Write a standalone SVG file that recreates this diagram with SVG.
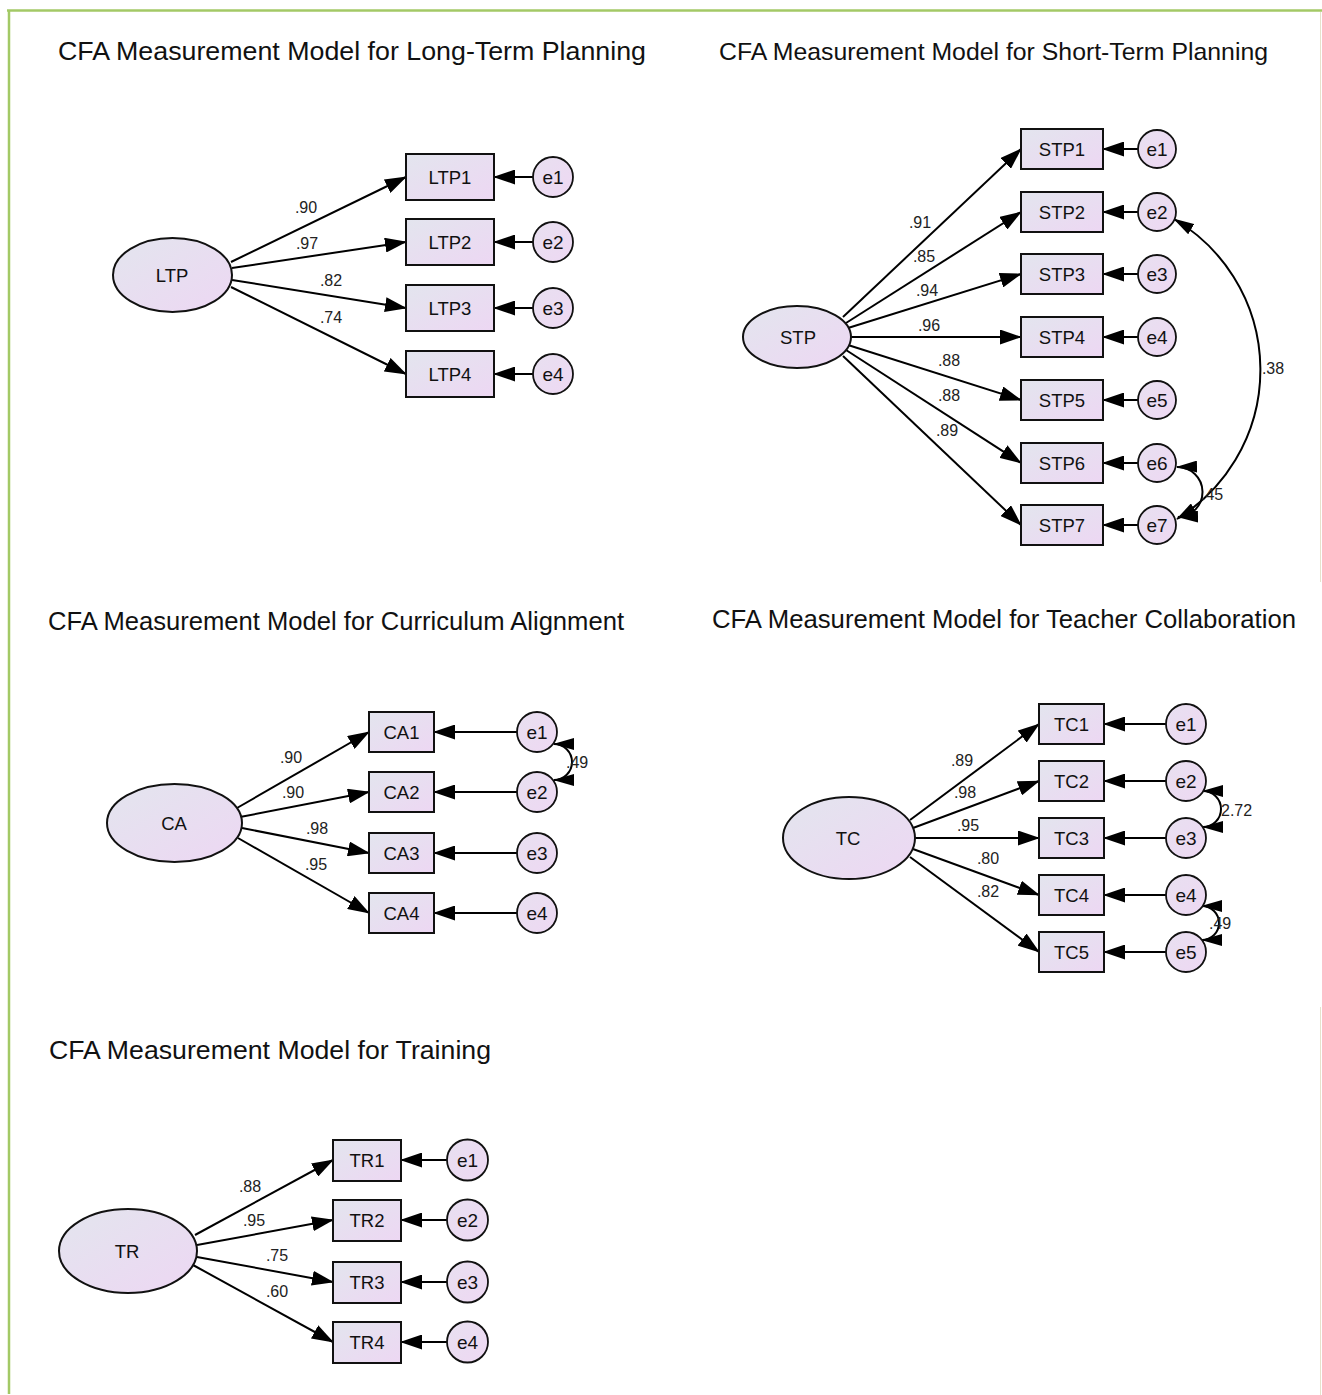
<svg xmlns="http://www.w3.org/2000/svg" width="1322" height="1395" viewBox="0 0 1322 1395">
<defs>
  <linearGradient id="nodeFill" x1="0" y1="0" x2="1" y2="1">
    <stop offset="0" stop-color="#e3e5ee"/>
    <stop offset="1" stop-color="#edd7f3"/>
  </linearGradient>
  <linearGradient id="errFill" x1="0" y1="0" x2="1" y2="1">
    <stop offset="0" stop-color="#e8e0f0"/>
    <stop offset="1" stop-color="#eed8f3"/>
  </linearGradient>
  <marker id="ah" viewBox="0 0 22 15" refX="21" refY="7.5" markerWidth="22" markerHeight="15" markerUnits="userSpaceOnUse" orient="auto-start-reverse">
    <path d="M0,0 L22,7.5 L0,15 z" fill="#000"/>
  </marker>
  <marker id="ahc" viewBox="0 0 21 12" refX="20" refY="6" markerWidth="21" markerHeight="12" markerUnits="userSpaceOnUse" orient="auto-start-reverse">
    <path d="M0,0 L21,6 L0,12 z" fill="#000"/>
  </marker>
  <style>
    .title { font-family: "Liberation Sans", Arial, sans-serif; fill: #111; }
    .box { fill: url(#nodeFill); stroke: #111; stroke-width: 2; }
    .lat { fill: url(#nodeFill); stroke: #111; stroke-width: 2; }
    .err { fill: url(#errFill); stroke: #111; stroke-width: 1.8; }
    .lbl { font-family: "Liberation Sans", Arial, sans-serif; font-size: 18.5px; fill: #111; text-anchor: middle; dominant-baseline: central; }
    .elbl { font-family: "Liberation Sans", Arial, sans-serif; font-size: 19px; fill: #111; text-anchor: middle; dominant-baseline: central; }
    .coef { font-family: "Liberation Sans", Arial, sans-serif; font-size: 16px; fill: #222; text-anchor: middle; dominant-baseline: central; }
    .cov { font-family: "Liberation Sans", Arial, sans-serif; font-size: 16px; fill: #222; }
    .path { fill: none; stroke: #000; stroke-width: 2; marker-end: url(#ah); }
    .arc { fill: none; stroke: #000; stroke-width: 2; marker-start: url(#ahc); marker-end: url(#ahc); }
  </style>
</defs>

<rect x="0" y="0" width="1322" height="1395" fill="#fff"/>

<!-- frame -->
<g id="frame" fill="none">
  <line x1="7" y1="10.5" x2="1322" y2="10.5" stroke="#a3c966" stroke-width="2.5"/>
  <line x1="9" y1="10" x2="9" y2="1394" stroke="#a3c966" stroke-width="2.5"/>
  <line x1="1320.5" y1="12" x2="1320.5" y2="582" stroke="#e6e2cc" stroke-width="1"/>
  <line x1="1320.5" y1="1007" x2="1320.5" y2="1395" stroke="#e6e2cc" stroke-width="1"/>
</g>

<!-- titles -->
<g id="titles" class="title">
  <text x="58" y="60" font-size="26.5" textLength="588" lengthAdjust="spacingAndGlyphs">CFA Measurement Model for Long-Term Planning</text>
  <text x="719" y="60" font-size="24.6" textLength="549" lengthAdjust="spacingAndGlyphs">CFA Measurement Model for Short-Term Planning</text>
  <text x="48" y="630" font-size="25.4" textLength="576" lengthAdjust="spacingAndGlyphs">CFA Measurement Model for Curriculum Alignment</text>
  <text x="712" y="628" font-size="25.4" textLength="584" lengthAdjust="spacingAndGlyphs">CFA Measurement Model for Teacher Collaboration</text>
  <text x="49" y="1059" font-size="26.4" textLength="442" lengthAdjust="spacingAndGlyphs">CFA Measurement Model for Training</text>
</g>

<!-- connectors -->
<g id="connectors">
  <!-- LTP loadings -->
  <line class="path" x1="231" y1="262" x2="406" y2="177"/>
  <line class="path" x1="232" y1="268" x2="406" y2="242"/>
  <line class="path" x1="232" y1="280" x2="406" y2="308"/>
  <line class="path" x1="231" y1="287" x2="406" y2="374"/>
  <!-- LTP errors -->
  <line class="path" x1="533" y1="177" x2="494" y2="177"/>
  <line class="path" x1="533" y1="242" x2="494" y2="242"/>
  <line class="path" x1="533" y1="308" x2="494" y2="308"/>
  <line class="path" x1="533" y1="374" x2="494" y2="374"/>

  <!-- STP loadings -->
  <line class="path" x1="843" y1="317" x2="1021" y2="149"/>
  <line class="path" x1="846" y1="323" x2="1021" y2="212"/>
  <line class="path" x1="848" y1="328" x2="1021" y2="274"/>
  <line class="path" x1="850" y1="337" x2="1021" y2="337"/>
  <line class="path" x1="848" y1="345" x2="1021" y2="400"/>
  <line class="path" x1="846" y1="350" x2="1021" y2="463"/>
  <line class="path" x1="843" y1="356" x2="1021" y2="525"/>
  <!-- STP errors -->
  <line class="path" x1="1138" y1="149" x2="1103" y2="149"/>
  <line class="path" x1="1138" y1="212" x2="1103" y2="212"/>
  <line class="path" x1="1138" y1="274" x2="1103" y2="274"/>
  <line class="path" x1="1138" y1="337" x2="1103" y2="337"/>
  <line class="path" x1="1138" y1="400" x2="1103" y2="400"/>
  <line class="path" x1="1138" y1="463" x2="1103" y2="463"/>
  <line class="path" x1="1138" y1="525" x2="1103" y2="525"/>
  <!-- STP covariances -->
  <path class="arc" d="M1174,219 A175,175 0 0 1 1177,519"/>
  <path class="arc" d="M1177,467 A25,25 0 0 1 1178,517"/>

  <!-- CA loadings -->
  <line class="path" x1="237" y1="808" x2="369" y2="732"/>
  <line class="path" x1="240" y1="817" x2="369" y2="792"/>
  <line class="path" x1="242" y1="828" x2="369" y2="853"/>
  <line class="path" x1="238" y1="838" x2="369" y2="913"/>
  <!-- CA errors -->
  <line class="path" x1="517" y1="732" x2="434" y2="732"/>
  <line class="path" x1="517" y1="792" x2="434" y2="792"/>
  <line class="path" x1="517" y1="853" x2="434" y2="853"/>
  <line class="path" x1="517" y1="913" x2="434" y2="913"/>
  <!-- CA covariance -->
  <path class="arc" d="M554,744 A18,18 0 0 1 554,780"/>

  <!-- TC loadings -->
  <line class="path" x1="910" y1="820" x2="1039" y2="724"/>
  <line class="path" x1="913" y1="828" x2="1039" y2="781"/>
  <line class="path" x1="914" y1="838" x2="1039" y2="838"/>
  <line class="path" x1="913" y1="849" x2="1039" y2="895"/>
  <line class="path" x1="910" y1="857" x2="1039" y2="952"/>
  <!-- TC errors -->
  <line class="path" x1="1166" y1="724" x2="1104" y2="724"/>
  <line class="path" x1="1166" y1="781" x2="1104" y2="781"/>
  <line class="path" x1="1166" y1="838" x2="1104" y2="838"/>
  <line class="path" x1="1166" y1="895" x2="1104" y2="895"/>
  <line class="path" x1="1166" y1="952" x2="1104" y2="952"/>
  <!-- TC covariances -->
  <path class="arc" d="M1203,791 A18,18 0 0 1 1203,827"/>
  <path class="arc" d="M1202,906 A17,17 0 0 1 1202,940"/>

  <!-- TR loadings -->
  <line class="path" x1="195" y1="1235" x2="333" y2="1160"/>
  <line class="path" x1="197" y1="1245" x2="333" y2="1220"/>
  <line class="path" x1="197" y1="1257" x2="333" y2="1282"/>
  <line class="path" x1="193" y1="1265" x2="333" y2="1342"/>
  <!-- TR errors -->
  <line class="path" x1="447" y1="1160" x2="401" y2="1160"/>
  <line class="path" x1="447" y1="1220" x2="401" y2="1220"/>
  <line class="path" x1="447" y1="1282" x2="401" y2="1282"/>
  <line class="path" x1="447" y1="1342" x2="401" y2="1342"/>
</g>

<!-- path coefficients -->
<g id="coefficients">
  <text class="coef" x="306" y="207">.90</text>
  <text class="coef" x="307" y="243">.97</text>
  <text class="coef" x="331" y="280">.82</text>
  <text class="coef" x="331" y="317">.74</text>

  <text class="coef" x="920" y="222">.91</text>
  <text class="coef" x="924" y="256">.85</text>
  <text class="coef" x="927" y="290">.94</text>
  <text class="coef" x="929" y="325">.96</text>
  <text class="coef" x="949" y="360">.88</text>
  <text class="coef" x="949" y="395">.88</text>
  <text class="coef" x="947" y="430">.89</text>
  <text class="coef" x="1273" y="368">.38</text>
  <text class="cov" x="1201" y="500">.45</text>

  <text class="coef" x="291" y="757">.90</text>
  <text class="coef" x="293" y="792">.90</text>
  <text class="coef" x="317" y="828">.98</text>
  <text class="coef" x="316" y="864">.95</text>
  <text class="cov" x="566" y="768">.49</text>

  <text class="coef" x="962" y="760">.89</text>
  <text class="coef" x="965" y="792">.98</text>
  <text class="coef" x="968" y="825">.95</text>
  <text class="coef" x="988" y="858">.80</text>
  <text class="coef" x="988" y="891">.82</text>
  <text class="cov" x="1221" y="816">2.72</text>
  <text class="cov" x="1209" y="929">.49</text>

  <text class="coef" x="250" y="1186">.88</text>
  <text class="coef" x="254" y="1220">.95</text>
  <text class="coef" x="277" y="1255">.75</text>
  <text class="coef" x="277" y="1291">.60</text>
</g>

<!-- Long-Term Planning -->
<g id="LTP"><ellipse class="lat" cx="172.5" cy="275" rx="59.5" ry="37"/><text class="lbl" x="172" y="275" font-size="19.5">LTP</text></g>
<g id="LTP1"><rect class="box" x="406" y="154" width="88" height="46"/><text class="lbl" x="450" y="177">LTP1</text></g>
<g id="LTP2"><rect class="box" x="406" y="219" width="88" height="46"/><text class="lbl" x="450" y="242">LTP2</text></g>
<g id="LTP3"><rect class="box" x="406" y="285" width="88" height="46"/><text class="lbl" x="450" y="308">LTP3</text></g>
<g id="LTP4"><rect class="box" x="406" y="351" width="88" height="46"/><text class="lbl" x="450" y="374">LTP4</text></g>
<g id="LTP_e1"><circle class="err" cx="553" cy="177" r="20"/><text class="elbl" x="553" y="177" font-size="20">e1</text></g>
<g id="LTP_e2"><circle class="err" cx="553" cy="242" r="20"/><text class="elbl" x="553" y="242" font-size="20">e2</text></g>
<g id="LTP_e3"><circle class="err" cx="553" cy="308" r="20"/><text class="elbl" x="553" y="308" font-size="20">e3</text></g>
<g id="LTP_e4"><circle class="err" cx="553" cy="374" r="20"/><text class="elbl" x="553" y="374" font-size="20">e4</text></g>

<!-- Short-Term Planning -->
<g id="STP"><ellipse class="lat" cx="797" cy="337" rx="54" ry="31"/><text class="lbl" x="798" y="337">STP</text></g>
<g id="STP1"><rect class="box" x="1021" y="129" width="82" height="40"/><text class="lbl" x="1062" y="149">STP1</text></g>
<g id="STP2"><rect class="box" x="1021" y="192" width="82" height="40"/><text class="lbl" x="1062" y="212">STP2</text></g>
<g id="STP3"><rect class="box" x="1021" y="254" width="82" height="40"/><text class="lbl" x="1062" y="274">STP3</text></g>
<g id="STP4"><rect class="box" x="1021" y="317" width="82" height="40"/><text class="lbl" x="1062" y="337">STP4</text></g>
<g id="STP5"><rect class="box" x="1021" y="380" width="82" height="40"/><text class="lbl" x="1062" y="400">STP5</text></g>
<g id="STP6"><rect class="box" x="1021" y="443" width="82" height="40"/><text class="lbl" x="1062" y="463">STP6</text></g>
<g id="STP7"><rect class="box" x="1021" y="505" width="82" height="40"/><text class="lbl" x="1062" y="525">STP7</text></g>
<g id="STP_e1"><circle class="err" cx="1157" cy="149" r="19"/><text class="elbl" x="1157" y="149" font-size="18">e1</text></g>
<g id="STP_e2"><circle class="err" cx="1157" cy="212" r="19"/><text class="elbl" x="1157" y="212" font-size="18">e2</text></g>
<g id="STP_e3"><circle class="err" cx="1157" cy="274" r="19"/><text class="elbl" x="1157" y="274" font-size="18">e3</text></g>
<g id="STP_e4"><circle class="err" cx="1157" cy="337" r="19"/><text class="elbl" x="1157" y="337" font-size="18">e4</text></g>
<g id="STP_e5"><circle class="err" cx="1157" cy="400" r="19"/><text class="elbl" x="1157" y="400" font-size="18">e5</text></g>
<g id="STP_e6"><circle class="err" cx="1157" cy="463" r="19"/><text class="elbl" x="1157" y="463" font-size="18">e6</text></g>
<g id="STP_e7"><circle class="err" cx="1157" cy="525" r="19"/><text class="elbl" x="1157" y="525" font-size="18">e7</text></g>

<!-- Curriculum Alignment -->
<g id="CA"><ellipse class="lat" cx="174.5" cy="823" rx="67.5" ry="39"/><text class="lbl" x="174" y="823" font-size="19.5">CA</text></g>
<g id="CA1"><rect class="box" x="369" y="712" width="65" height="40"/><text class="lbl" x="401.5" y="732">CA1</text></g>
<g id="CA2"><rect class="box" x="369" y="772" width="65" height="40"/><text class="lbl" x="401.5" y="792">CA2</text></g>
<g id="CA3"><rect class="box" x="369" y="833" width="65" height="40"/><text class="lbl" x="401.5" y="853">CA3</text></g>
<g id="CA4"><rect class="box" x="369" y="893" width="65" height="40"/><text class="lbl" x="401.5" y="913">CA4</text></g>
<g id="CA_e1"><circle class="err" cx="537" cy="732" r="20"/><text class="elbl" x="537" y="732" font-size="18">e1</text></g>
<g id="CA_e2"><circle class="err" cx="537" cy="792" r="20"/><text class="elbl" x="537" y="792" font-size="18">e2</text></g>
<g id="CA_e3"><circle class="err" cx="537" cy="853" r="20"/><text class="elbl" x="537" y="853" font-size="18">e3</text></g>
<g id="CA_e4"><circle class="err" cx="537" cy="913" r="20"/><text class="elbl" x="537" y="913" font-size="18">e4</text></g>

<!-- Teacher Collaboration -->
<g id="TC"><ellipse class="lat" cx="849" cy="838" rx="66" ry="41"/><text class="lbl" x="848" y="838" font-size="19.5">TC</text></g>
<g id="TC1"><rect class="box" x="1039" y="704" width="65" height="40"/><text class="lbl" x="1071.5" y="724">TC1</text></g>
<g id="TC2"><rect class="box" x="1039" y="761" width="65" height="40"/><text class="lbl" x="1071.5" y="781">TC2</text></g>
<g id="TC3"><rect class="box" x="1039" y="818" width="65" height="40"/><text class="lbl" x="1071.5" y="838">TC3</text></g>
<g id="TC4"><rect class="box" x="1039" y="875" width="65" height="40"/><text class="lbl" x="1071.5" y="895">TC4</text></g>
<g id="TC5"><rect class="box" x="1039" y="932" width="65" height="40"/><text class="lbl" x="1071.5" y="952">TC5</text></g>
<g id="TC_e1"><circle class="err" cx="1186" cy="724" r="20"/><text class="elbl" x="1186" y="724">e1</text></g>
<g id="TC_e2"><circle class="err" cx="1186" cy="781" r="20"/><text class="elbl" x="1186" y="781">e2</text></g>
<g id="TC_e3"><circle class="err" cx="1186" cy="838" r="20"/><text class="elbl" x="1186" y="838">e3</text></g>
<g id="TC_e4"><circle class="err" cx="1186" cy="895" r="20"/><text class="elbl" x="1186" y="895">e4</text></g>
<g id="TC_e5"><circle class="err" cx="1186" cy="952" r="20"/><text class="elbl" x="1186" y="952">e5</text></g>

<!-- Training -->
<g id="TR"><ellipse class="lat" cx="128" cy="1251" rx="69" ry="42"/><text class="lbl" x="127" y="1251" font-size="19.5">TR</text></g>
<g id="TR1"><rect class="box" x="333" y="1140" width="68" height="41"/><text class="lbl" x="367" y="1160">TR1</text></g>
<g id="TR2"><rect class="box" x="333" y="1200" width="68" height="41"/><text class="lbl" x="367" y="1220">TR2</text></g>
<g id="TR3"><rect class="box" x="333" y="1262" width="68" height="41"/><text class="lbl" x="367" y="1282">TR3</text></g>
<g id="TR4"><rect class="box" x="333" y="1322" width="68" height="41"/><text class="lbl" x="367" y="1342">TR4</text></g>
<g id="TR_e1"><circle class="err" cx="467.5" cy="1160" r="20.5"/><text class="elbl" x="467.5" y="1160">e1</text></g>
<g id="TR_e2"><circle class="err" cx="467.5" cy="1220" r="20.5"/><text class="elbl" x="467.5" y="1220">e2</text></g>
<g id="TR_e3"><circle class="err" cx="467.5" cy="1282" r="20.5"/><text class="elbl" x="467.5" y="1282">e3</text></g>
<g id="TR_e4"><circle class="err" cx="467.5" cy="1342" r="20.5"/><text class="elbl" x="467.5" y="1342">e4</text></g>
</svg>
